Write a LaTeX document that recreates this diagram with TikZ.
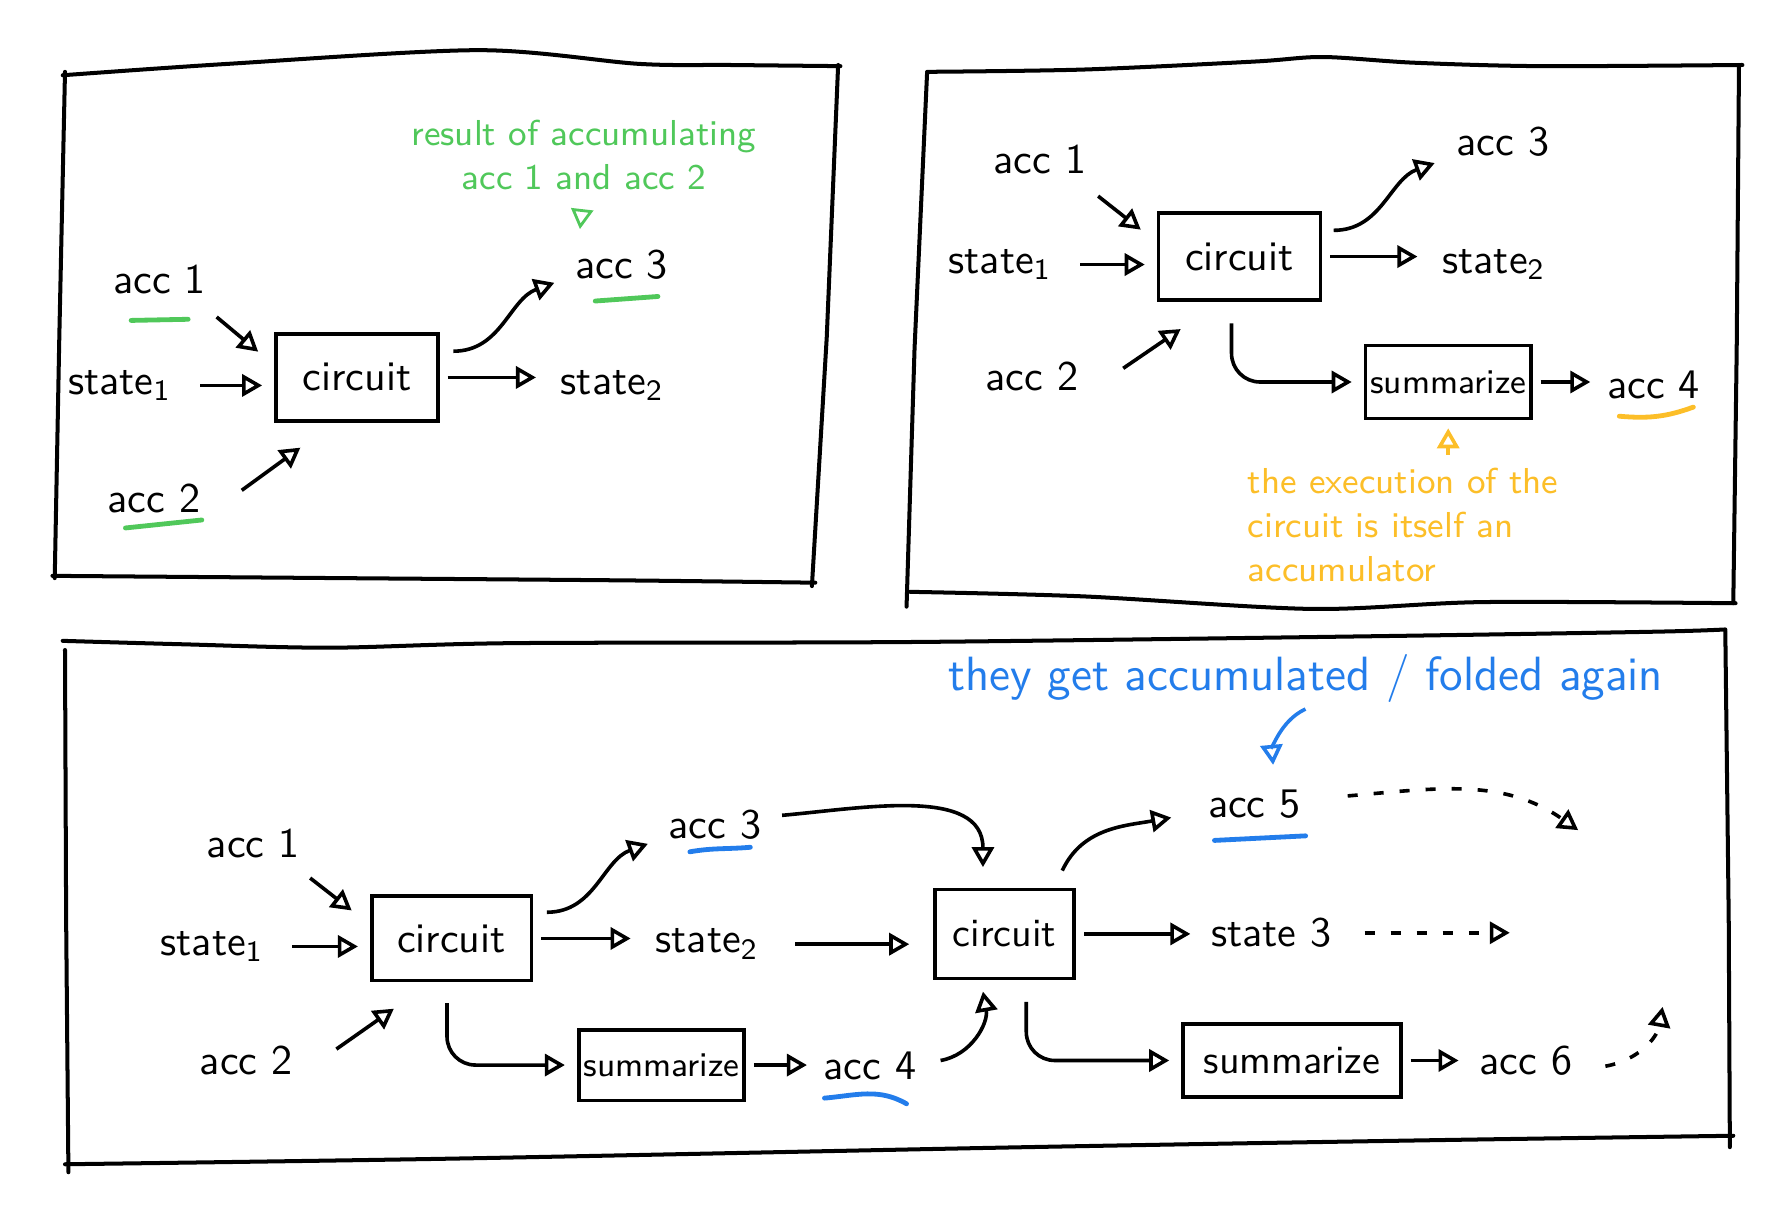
\documentclass[tikz,border=0pt]{standalone}
\usepackage{tikz}
\usetikzlibrary{positioning,arrows.meta}

\definecolor{accgreen}{RGB}{80,200,90}
\definecolor{accyellow}{RGB}{252,190,40}
\definecolor{accblue}{RGB}{35,125,235}

\tikzset{
  lab/.style={font=\sffamily\fontsize{10.5}{12.5}\selectfont, inner sep=1pt},
  circ/.style={draw, line width=0.9pt, minimum width=1.42cm, minimum height=0.76cm, inner sep=1pt, font=\sffamily\fontsize{10.5}{12.5}\selectfont},
  summ/.style={draw, line width=0.9pt, minimum width=1.45cm, minimum height=0.64cm, inner sep=1pt, font=\sffamily\fontsize{8.6}{10}\selectfont},
  link/.style={-{Triangle[open,length=5pt,width=5.5pt]}, line width=0.9pt},
  later/.style={link, dash pattern=on 2.5pt off 4pt},
  hint/.style={font=\sffamily\small, inner sep=1pt},
  uline/.style={line width=1.2pt, line cap=round},
  panel/.style={line width=1pt, line cap=round},
}

\begin{document}
\begin{tikzpicture}[x=1cm,y=1cm]
  \useasboundingbox (0,0) rectangle (15.68,10.56);

  % frames
  \draw[panel] plot[smooth] coordinates {(0.55,9.90) (2.0,10.0) (4.2,10.12) (5.6,10.0) (6.4,9.99) (7.37,9.98)};
  \draw[panel] (7.35,9.99) -- (7.25,7.6) -- (7.12,5.42);
  \draw[panel] plot[smooth] coordinates {(0.46,5.51) (3.0,5.49) (5.5,5.47) (7.15,5.45)};
  \draw[panel] (0.57,9.93) -- (0.52,7.6) -- (0.48,5.49);

  \draw[panel] plot[smooth] coordinates {(8.13,9.93) (9.5,9.95) (11.0,10.02) (11.6,10.06) (12.4,10.01) (13.5,9.98) (15.28,9.99)};
  \draw[panel] (15.25,9.99) -- (15.23,7.5) -- (15.20,5.27);
  \draw[panel] plot[smooth] coordinates {(7.98,5.37) (9.5,5.33) (11.5,5.22) (13.0,5.28) (15.22,5.27)};
  \draw[panel] (8.13,9.92) -- (8.02,7.5) -- (7.95,5.24);

  \draw[panel] plot[smooth] coordinates {(0.55,4.94) (1.6,4.91) (2.9,4.88) (4.5,4.92) (8.0,4.93) (12.0,4.98) (14.5,5.02) (15.13,5.04)};
  \draw[panel] (0.57,4.86) -- (0.58,2.5) -- (0.60,0.28);
  \draw[panel] plot[smooth] coordinates {(0.57,0.35) (4.0,0.40) (9.0,0.50) (12.5,0.56) (15.20,0.60)};
  \draw[panel] (15.13,5.03) -- (15.16,2.5) -- (15.17,0.50);

  % first panel
  \node[lab] (p1acc1) at (1.40,8.11) {acc 1};
  \node[lab] (p1st1) at (1.05,7.18) {state\textsubscript{1}};
  \node[circ] (p1c) at (3.13,7.25) {circuit};
  \node[lab] (p1acc2) at (1.35,6.19) {acc 2};
  \node[lab] (p1acc3) at (5.45,8.24) {acc 3};
  \node[lab] (p1st2) at (5.37,7.18) {state\textsubscript{2}};
  \node[hint, text=accgreen, align=center] (p1note) at (5.12,9.20) {result of accumulating\\acc 1 and acc 2};

  \draw[link] ([shift={(0.50,-0.33)}]p1acc1.center) -- ([shift={(-0.14,-0.17)}]p1c.north west);
  \draw[link, shorten <=6pt, shorten >=3pt] (p1st1.east) -- (p1st1.east -| p1c.west);
  \draw[link] ([shift={(0.77,0.07)}]p1acc2.center) -- ([shift={(0.23,-0.22)}]p1c.south west);
  \draw[link] ([shift={(0.12,0.23)}]p1c.east) to[out=0,in=200] ([shift={(-0.14,-0.16)}]p1acc3.west);
  \draw[link, shorten <=2pt, shorten >=5pt] (p1c.east) -- (p1c.east -| p1st2.west);
  \draw[link, accgreen, line width=0.7pt, shorten <=4pt, shorten >=4pt] (p1note.south) -- ([xshift=-0.38cm]p1acc3.north);

  \draw[uline, accgreen] (1.15,7.75) -- (1.65,7.76);
  \draw[uline, accgreen] (1.10,5.93) -- (1.77,6.00);
  \draw[uline, accgreen] (5.22,7.92) -- (5.77,7.96);

  % second panel
  \node[lab] (p2acc1) at (9.12,9.16) {acc 1};
  \node[lab] (p2st1) at (8.77,8.24) {state\textsubscript{1}};
  \node[circ] (p2c) at (10.87,8.31) {circuit};
  \node[lab] (p2acc2) at (9.05,7.26) {acc 2};
  \node[lab] (p2acc3) at (13.18,9.32) {acc 3};
  \node[lab] (p2st2) at (13.10,8.24) {state\textsubscript{2}};
  \node[summ] (p2sum) at (12.70,7.21) {summarize};
  \node[lab] (p2acc4) at (14.50,7.18) {acc 4};
  \node[hint, text=accyellow, align=left, anchor=north west] (p2note) at (10.90,6.50) {the execution of the\\circuit is itself an\\accumulator};

  \draw[link] ([shift={(0.51,-0.32)}]p2acc1.center) -- ([shift={(-0.14,-0.16)}]p2c.north west);
  \draw[link, shorten <=6pt, shorten >=3pt] (p2st1.east) -- (p2st1.east -| p2c.west);
  \draw[link] ([shift={(0.80,0.07)}]p2acc2.center) -- ([shift={(0.21,-0.24)}]p2c.south west);
  \draw[link] ([shift={(0.10,0.23)}]p2c.east) to[out=0,in=200] ([shift={(-0.15,-0.19)}]p2acc3.west);
  \draw[link, shorten <=2pt, shorten >=5pt] (p2c.east) -- (p2c.east -| p2st2.west);
  \draw[link, rounded corners=0.25cm, shorten >=3pt] ([shift={(-0.07,-0.19)}]p2c.south) |- (p2sum.west);
  \draw[link, shorten <=2pt, shorten >=3pt] (p2sum.east) -- (p2sum.east -| p2acc4.west);
  \draw[link, accyellow, shorten <=2pt, shorten >=2pt] (p2note.north -| p2sum.south) -- (p2sum.south);

  \draw[uline, accyellow] (14.20,6.91) to[out=-5,in=200] (14.85,6.99);

  % third panel
  \node[lab] (p3acc1) at (2.22,3.16) {acc 1};
  \node[lab] (p3st1) at (1.86,2.26) {state\textsubscript{1}};
  \node[circ, minimum width=1.40cm, minimum height=0.74cm] (p3c1) at (3.96,2.33) {circuit};
  \node[lab] (p3acc2) at (2.16,1.26) {acc 2};
  \node[lab] (p3acc3) at (6.27,3.33) {acc 3};
  \node[lab] (p3st2) at (6.20,2.28) {state\textsubscript{2}};
  \node[summ, minimum height=0.62cm] (p3sum1) at (5.80,1.22) {summarize};
  \node[lab] (p3acc4) at (7.63,1.21) {acc 4};
  \node[circ, minimum width=1.22cm, minimum height=0.78cm, font=\sffamily] (p3c2) at (8.81,2.37) {circuit};
  \node[lab] (p3acc5) at (11.00,3.51) {acc 5};
  \node[lab] (p3st3) at (11.15,2.38) {state 3};
  \node[summ, minimum width=1.91cm, font=\sffamily] (p3sum2) at (11.33,1.26) {summarize};
  \node[lab] (p3acc6) at (13.38,1.26) {acc 6};
  \node[hint, text=accblue, font=\sffamily\large] (p3note) at (11.45,4.61) {they get accumulated / folded again};
  \coordinate (p3end5) at (13.84,3.28);
  \coordinate (p3end3) at (13.24,2.38);
  \coordinate (p3end6) at (14.58,1.73);

  \draw[link] ([shift={(0.50,-0.30)}]p3acc1.center) -- ([shift={(-0.16,-0.14)}]p3c1.north west);
  \draw[link, shorten <=6pt, shorten >=3pt] (p3st1.east) -- (p3st1.east -| p3c1.west);
  \draw[link] ([shift={(0.79,0.10)}]p3acc2.center) -- ([shift={(0.21,-0.23)}]p3c1.south west);
  \draw[link] ([shift={(0.12,0.23)}]p3c1.east) to[out=0,in=200] ([shift={(-0.14,-0.17)}]p3acc3.west);
  \draw[link, shorten <=2pt, shorten >=5pt] (p3c1.east) -- (p3c1.east -| p3st2.west);
  \draw[link, rounded corners=0.25cm, shorten >=3pt] ([shift={(-0.04,-0.18)}]p3c1.south) |- (p3sum1.west);
  \draw[link, shorten <=2pt, shorten >=3pt] (p3sum1.east) -- (p3sum1.east -| p3acc4.west);
  \draw[link] ([shift={(0.14,0.08)}]p3acc3.east) to[out=5,in=90] ([shift={(-0.19,0.18)}]p3c2.north);
  \draw[link, shorten <=8pt, shorten >=6pt] (p3st2.east) -- (p3st2.east -| p3c2.west);
  \draw[link] ([shift={(0.17,0.05)}]p3acc4.east) to[out=10,in=-80] ([shift={(-0.19,-0.10)}]p3c2.south);
  \draw[link] ([shift={(-0.12,0.15)}]p3c2.north east) to[out=65,in=190] ([shift={(-0.28,-0.12)}]p3acc5.west);
  \draw[link, shorten <=2pt, shorten >=4pt] (p3c2.east) -- (p3c2.east -| p3st3.west);
  \draw[link, rounded corners=0.25cm, shorten >=3pt] ([shift={(0.19,-0.19)}]p3c2.south) |- (p3sum2.west);
  \draw[link, shorten <=2pt, shorten >=4pt] (p3sum2.east) -- (p3sum2.east -| p3acc6.west);
  \draw[link, accblue, shorten <=1pt, shorten >=5pt] ([xshift=0.03cm]p3note.south) to[out=205,in=95] ([xshift=0.18cm]p3acc5.north);
  \draw[later] ([shift={(0.37,0.07)}]p3acc5.east) to[out=5,in=145] (p3end5);
  \draw[later, shorten <=7pt] (p3st3.east) -- (p3end3);
  \draw[later] ([shift={(0.25,-0.05)}]p3acc6.east) to[out=10,in=-100] (p3end6);

  \draw[uline, accblue] (6.05,3.09) to[out=10,in=185] (6.58,3.13);
  \draw[uline, accblue] (7.23,0.93) to[out=5,in=150] (7.95,0.88);
  \draw[uline, accblue] (10.65,3.19) -- (11.45,3.23);
\end{tikzpicture}
\end{document}
